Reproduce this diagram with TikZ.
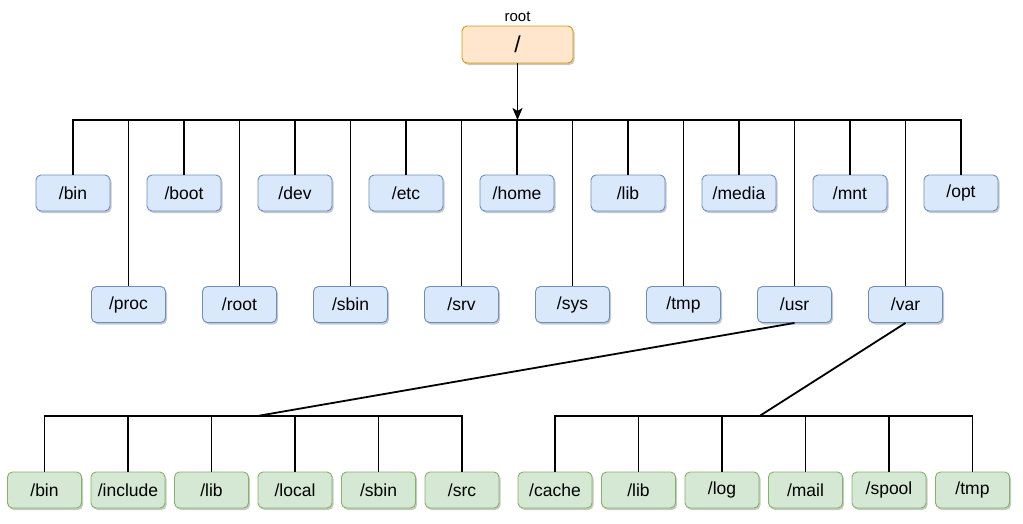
\documentclass[tikz,border=0pt]{standalone}
\usepackage{fontspec}
\setmainfont{Liberation Sans}
\usetikzlibrary{arrows.meta,shadows}
\definecolor{bluefill}{HTML}{DAE8FC}
\definecolor{bluedraw}{HTML}{6C8EBF}
\definecolor{greenfill}{HTML}{D5E8D4}
\definecolor{greendraw}{HTML}{82B366}
\definecolor{orangefill}{HTML}{FFE6CC}
\definecolor{orangedraw}{HTML}{D79B00}
\tikzset{
  box/.style={draw, rounded corners=5pt, minimum width=74pt, minimum height=36pt, inner sep=0pt,
    line width=0.9pt, font=\fontsize{17.5}{19}\selectfont,
    drop shadow={shadow xshift=1.5pt, shadow yshift=-2pt, opacity=0.22, fill=black}},
  dirb/.style={box, fill=bluefill, draw=bluedraw},
  dirg/.style={box, fill=greenfill, draw=greendraw},
  rootbox/.style={box, fill=orangefill, draw=orangedraw, minimum width=111pt, minimum height=37pt,
    font=\fontsize{23}{25}\selectfont},
  conn/.style={line width=1.8pt, line join=miter},
}
\begin{document}
\begin{tikzpicture}[x=1pt,y=-1pt]
\useasboundingbox (0,0) rectangle (1023,523);
% root
\node[rootbox] (root) at (517.5,44.5) {/};
\node[font=\fontsize{15}{17}\selectfont, inner sep=0pt] (rootlbl) at (517.5,17) {root};
% level 1
\foreach \n/\t [count=\i from 0] in {bin/bin, boot/boot, dev/dev, etc/etc, home/home, lib/lib, media/media, mnt/mnt, opt/opt}
  \node[dirb] (\n) at (73+111*\i,193) {/\t};
\foreach \n/\t [count=\i from 0] in {proc/proc, rootd/root, sbin/sbin, srv/srv, sys/sys, tmp/tmp, usr/usr, var/var}
  \node[dirb] (\n) at (128.5+111*\i,304.5) {/\t};
% level 2 under usr
\foreach \n/\t [count=\i from 0] in {ubin/bin, uinc/include, ulib/lib, uloc/local, usbin/sbin, usrc/src}
  \node[dirg] (\n) at (44.5+83.5*\i,490) {/\t};
% level 2 under var
\foreach \n/\t [count=\i from 0] in {vcache/cache, vlib/lib, vlog/log, vmail/mail, vspool/spool, vtmp/tmp}
  \node[dirg] (\n) at (555+83.5*\i,490) {/\t};
% connectors
\coordinate (t) at (517.5,120);
\coordinate (u) at (259,415.7);
\coordinate (v) at (760,415.7);
\draw[conn, -{Stealth[length=12pt,width=10pt,inset=3pt]}] (root.south) -- (t);
\draw[conn] (bin.north) -- (bin.north |- t) -- (opt.north |- t) -- (opt.north);
\foreach \n in {boot,dev,etc,home,lib,media,mnt,proc,rootd,sbin,srv,sys,tmp,usr,var}
  \draw[conn] (\n.north) -- (\n.north |- t);
\draw[conn] (ubin.north) -- (ubin.north |- u) -- (usrc.north |- u) -- (usrc.north);
\foreach \n in {uinc,ulib,uloc,usbin}
  \draw[conn] (\n.north) -- (\n.north |- u);
\draw[conn] (vcache.north) -- (vcache.north |- v) -- (vtmp.north |- v) -- (vtmp.north);
\foreach \n in {vlib,vlog,vmail,vspool}
  \draw[conn] (\n.north) -- (\n.north |- v);
\draw[conn] (usr.south) -- (u);
\draw[conn] (var.south) -- (v);
\end{tikzpicture}
\end{document}
